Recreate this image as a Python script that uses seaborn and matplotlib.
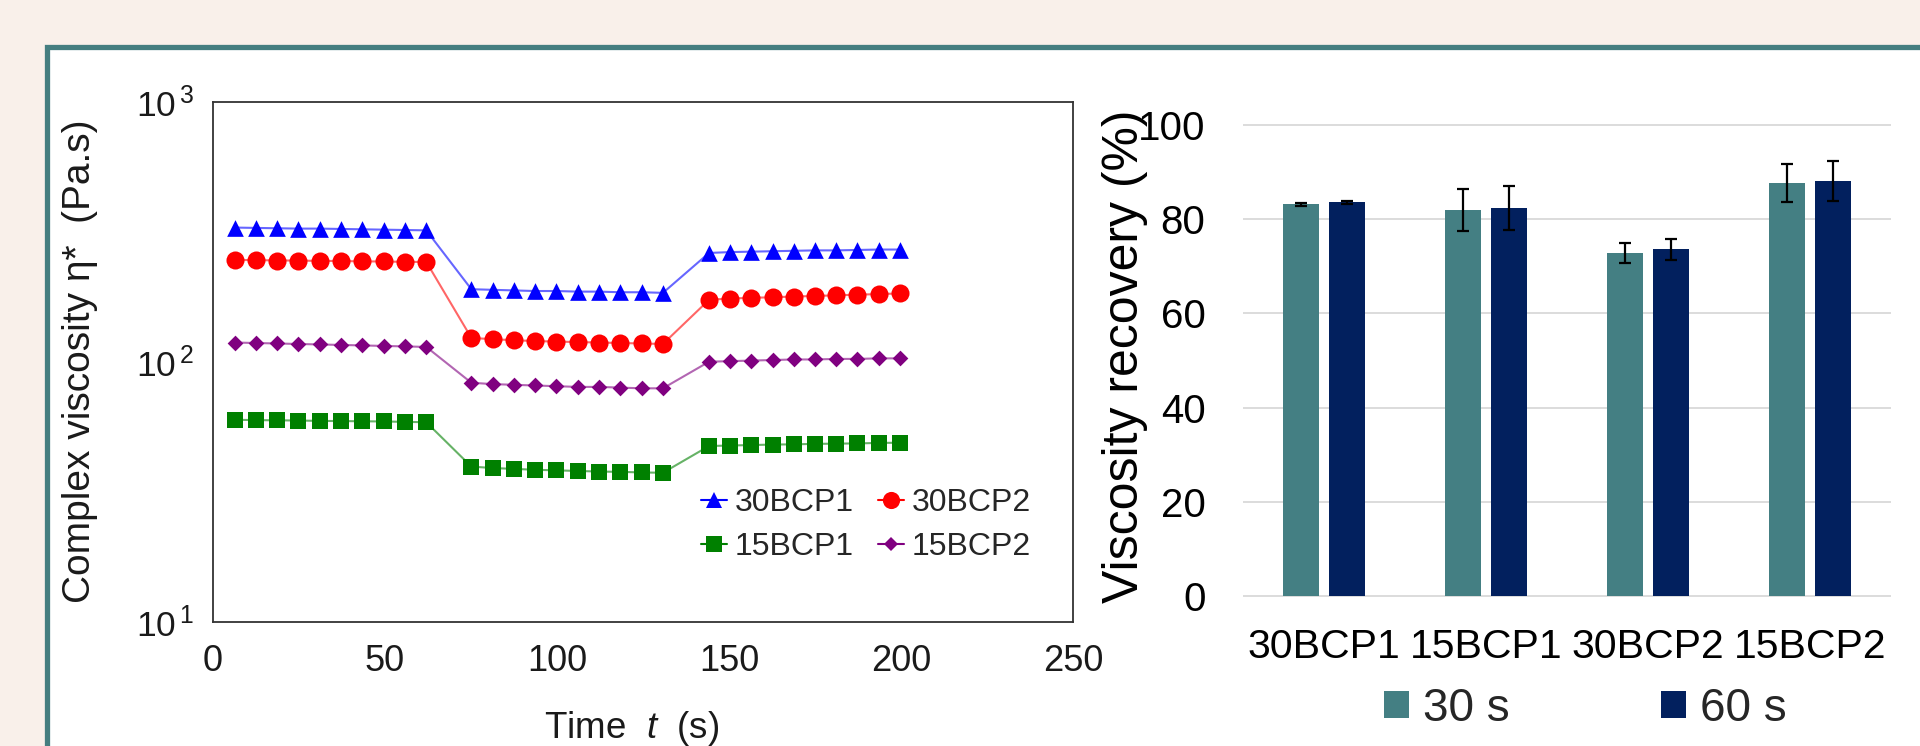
import numpy as np
import pandas as pd
import matplotlib
matplotlib.use("Agg")
import matplotlib.pyplot as plt
import seaborn as sns
from matplotlib.patches import Rectangle
from matplotlib.lines import Line2D
from matplotlib.ticker import MultipleLocator, LogLocator, FuncFormatter, NullFormatter

# ---------------- data ----------------
time_s = [6.3, 12.5, 18.7, 24.8, 31.0, 37.2, 43.4, 49.6, 55.8, 62.0,
          75.1, 81.3, 87.5, 93.6, 99.8, 106.0, 112.2, 118.4, 124.6, 130.8,
          144.2, 150.4, 156.5, 162.7, 168.8, 175.0, 181.2, 187.3, 193.5, 199.6]

visc_30BCP1 = [328, 327, 326, 325, 325, 324, 323, 322, 321, 320,
               190, 189, 188, 187, 187, 186, 186, 185, 185, 184,
               262, 264, 265, 266, 267, 268, 268, 269, 270, 270]
visc_30BCP2 = [246, 246, 245, 245, 244, 244, 243, 243, 242, 242,
               123.5, 122, 121, 120, 119.5, 119, 118.5, 118, 117.5, 117,
               173, 175, 176, 177, 178, 179, 180, 181, 182, 183]
visc_15BCP1 = [59.8, 59.6, 59.5, 59.4, 59.2, 59.1, 59.0, 58.9, 58.7, 58.5,
               39.5, 39.0, 38.7, 38.4, 38.2, 38.0, 37.8, 37.7, 37.5, 37.4,
               47.4, 47.6, 47.8, 48.0, 48.1, 48.3, 48.4, 48.5, 48.7, 48.8]
visc_15BCP2 = [118.5, 118, 117.5, 117, 116.5, 116, 115.5, 115, 114.5, 114,
               83, 82, 81.5, 81, 80.5, 80, 80, 79.5, 79, 79,
               100, 100.5, 101, 101.5, 102, 102, 102.5, 102.5, 103, 103]

series_names = ["30BCP1", "30BCP2", "15BCP1", "15BCP2"]
legend_order = ["30BCP1", "15BCP1", "30BCP2", "15BCP2"]  # column-wise fill
series_colors = {"30BCP1": "#0000ff", "30BCP2": "#ff0000",
                 "15BCP1": "#008000", "15BCP2": "#800080"}
series_markers = {"30BCP1": "^", "30BCP2": "o", "15BCP1": "s", "15BCP2": "D"}
series_sizes = {"30BCP1": 12.0, "30BCP2": 13.0, "15BCP1": 11.5, "15BCP2": 8.0}

samples = ["30BCP1", "15BCP1", "30BCP2", "15BCP2"]
rec_30s = [83.2, 81.9, 72.8, 87.7]
err_30s = [0.3, 4.5, 2.2, 4.1]
rec_60s = [83.6, 82.4, 73.6, 88.1]
err_60s = [0.3, 4.6, 2.3, 4.2]
time_levels = ["30 s", "60 s"]
bar_colors = ["#447f83", "#02205e"]

# ---------------- style ----------------
sns.set_theme(style="white")
plt.rcParams["font.family"] = ["Liberation Sans", "DejaVu Sans"]
plt.rcParams["mathtext.fontset"] = "custom"
plt.rcParams["mathtext.rm"] = "Liberation Sans"
plt.rcParams["mathtext.it"] = "Liberation Sans:italic"

W, H = 1920, 746
fig = plt.figure(figsize=(W / 100, H / 100), dpi=100)
fig.patch.set_facecolor("#f9f0ea")

# white panel with teal border on its left and top sides (it runs off the right/bottom)
px = lambda v: v / W
py = lambda v: 1 - v / H
panel = Rectangle((px(46.5), -0.5), 2.0, py(46.5) + 0.5,
                  transform=fig.transFigure, facecolor="white",
                  edgecolor="none", zorder=-6)
fig.add_artist(panel)
border = Line2D([px(46.5), px(46.5), 1.2], [-0.2, py(46.5), py(46.5)],
                transform=fig.transFigure, color="#457e80", linewidth=3.8,
                solid_joinstyle="miter", zorder=-5)
fig.add_artist(border)

# ---------------- left chart ----------------
ax1 = fig.add_axes([px(213), py(621.7), 860 / W, 520 / H])
ax1.set_facecolor("white")
long = pd.DataFrame({
    "time": time_s * 4,
    "visc": visc_30BCP1 + visc_30BCP2 + visc_15BCP1 + visc_15BCP2,
    "series": sum([[n] * len(time_s) for n in series_names], []),
})
sns.lineplot(data=long, x="time", y="visc", hue="series", palette=series_colors,
             hue_order=series_names, linewidth=1.5, alpha=0.6, legend=False,
             ax=ax1, estimator=None, sort=False)
for n in series_names:
    sub = long[long.series == n]
    sns.scatterplot(data=sub, x="time", y="visc", color=series_colors[n],
                    marker=series_markers[n], s=series_sizes[n] ** 2,
                    linewidth=0, legend=False, ax=ax1, zorder=3)

ax1.set_yscale("log")
ax1.set_ylim(10, 1000)
ax1.set_xlim(0, 250)
ax1.xaxis.set_major_locator(MultipleLocator(50))
ax1.xaxis.set_minor_locator(MultipleLocator(12.5))
ax1.yaxis.set_major_locator(LogLocator(base=10, numticks=10))
ax1.yaxis.set_minor_locator(LogLocator(base=10, subs=np.arange(2, 10), numticks=10))
ax1.yaxis.set_minor_formatter(NullFormatter())
ax1.yaxis.set_major_formatter(FuncFormatter(
    lambda v, p: r"$\mathregular{10^{\,%d}}$" % int(round(np.log10(v)))))
for sp in ax1.spines.values():
    sp.set_color("#333333")
    sp.set_linewidth(1.3)
ax1.tick_params(axis="both", which="major", direction="out", length=8,
                width=1.1, color="#333333", labelcolor="#1a1a1a")
ax1.tick_params(axis="both", which="minor", direction="out", length=5,
                width=1.0, color="#333333")
ax1.tick_params(axis="x", which="major", labelsize=26, pad=8)
ax1.tick_params(axis="y", which="major", labelsize=25.5, pad=6)
ax1.tick_params(top=False, right=False, which="both")

ax1.set_xlabel("Time  $\\mathit{t}$  (s)", fontsize=26.5, color="#1a1a1a")
ax1.xaxis.set_label_coords(0.487, -0.205)
ax1.xaxis.label.set_va("center")
ax1.set_ylabel("Complex viscosity η*  (Pa.s)", fontsize=28, color="#1a1a1a")
ax1.yaxis.set_label_coords(-0.155, 0.5)
ax1.yaxis.label.set_va("center")

handles = [Line2D([], [], color=series_colors[n], marker=series_markers[n],
                  markersize=series_sizes[n] * 0.95, linewidth=1.5, markeredgewidth=0)
           for n in legend_order]
ax1.legend(handles, legend_order, loc="center left", bbox_to_anchor=(0.568, 0.186),
           ncol=2, frameon=False, fontsize=23, handlelength=0.8,
           handletextpad=0.25, columnspacing=0.75, labelspacing=0.45,
           borderpad=0, borderaxespad=0)

# ---------------- right chart ----------------
ax2 = fig.add_axes([px(1243), py(597.9), 648 / W, 477.6 / H])
ax2.set_facecolor("white")
bars = pd.DataFrame({
    "sample": samples * 2,
    "recovery": rec_30s + rec_60s,
    "time": [time_levels[0]] * 4 + [time_levels[1]] * 4,
})
sns.barplot(data=bars, x="sample", y="recovery", hue="time", order=samples,
            hue_order=time_levels, palette=bar_colors, width=0.568, gap=0.217,
            saturation=1, errorbar=None, linewidth=0, ax=ax2, zorder=2)
errs = err_30s + err_60s
bar_patches = [p for p in ax2.patches if p.get_height() > 1]
xs = [p.get_x() + p.get_width() / 2 for p in bar_patches]
ys = [p.get_height() for p in bar_patches]
ax2.errorbar(xs, ys, yerr=errs, fmt="none", ecolor="black", elinewidth=1.6,
             capsize=4.3, capthick=1.6, zorder=3)

ax2.set_ylim(-0.4, 101)
ax2.set_xlim(-0.5, 3.5)
ax2.set_yticks([0, 20, 40, 60, 80, 100])
ax2.yaxis.grid(True, color="#d9d9d9", linewidth=1.3)
ax2.set_axisbelow(True)
for sp in ax2.spines.values():
    sp.set_visible(False)
ax2.tick_params(axis="both", length=0, labelcolor="black")
ax2.tick_params(axis="y", labelsize=29, pad=27)
ax2.tick_params(axis="x", labelsize=29.5, pad=22)
ax2.set_xlabel("")
ax2.set_ylabel("Viscosity recovery (%)", fontsize=36, color="black")
ax2.yaxis.set_label_coords(-0.182, 0.507)
ax2.yaxis.label.set_va("center")

h, l = ax2.get_legend_handles_labels()
ax2.legend(h, l, loc="center", bbox_to_anchor=(0.528, -0.232), ncol=2,
           frameon=False, fontsize=33, handlelength=0.55, handleheight=0.55,
           handletextpad=0.3, columnspacing=3.3, borderpad=0)

fig.savefig("out.png", dpi=100, facecolor=fig.get_facecolor())
